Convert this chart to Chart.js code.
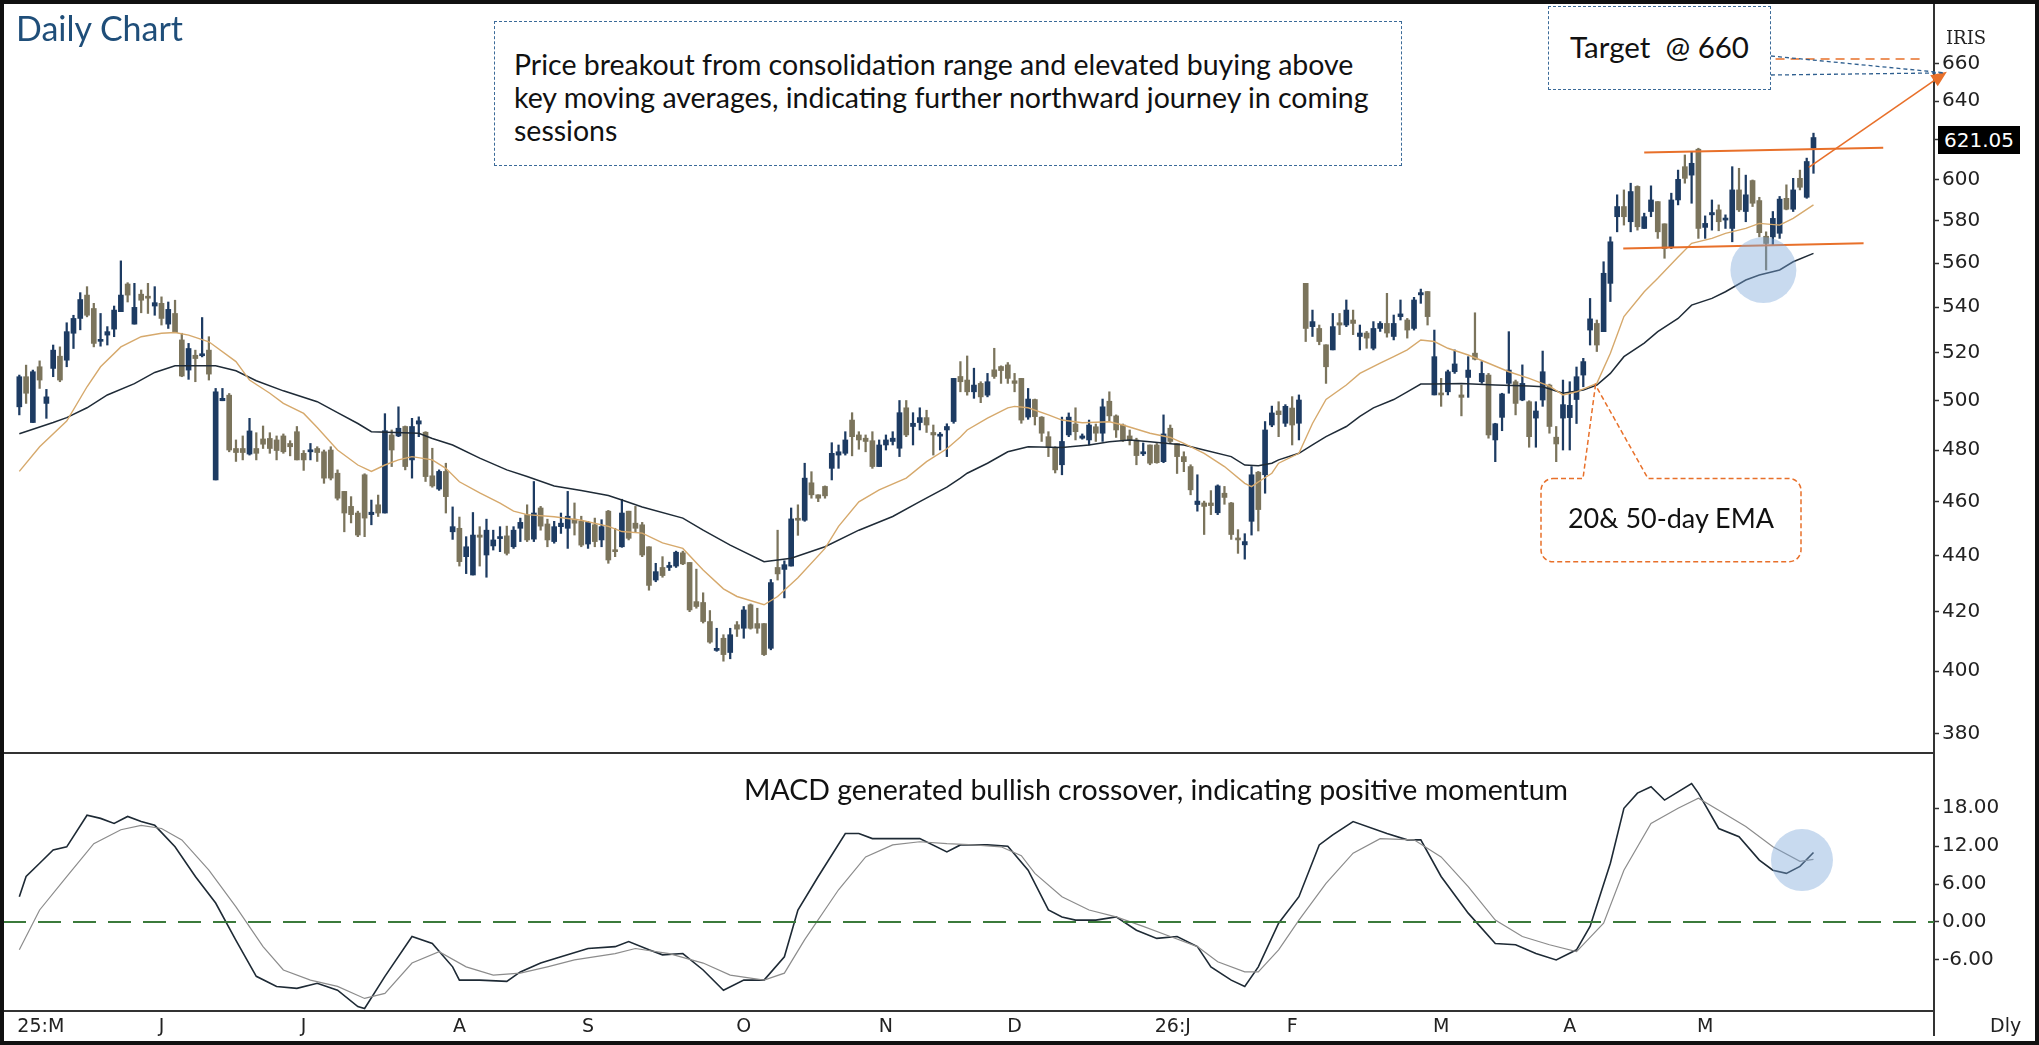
<!DOCTYPE html>
<html>
<head>
<meta charset="utf-8">
<title>IRIS Daily Chart</title>
<script src="https://cdn.jsdelivr.net/npm/chart.js@4.4.1/dist/chart.umd.min.js"></script>
<style>
  html, body { margin: 0; padding: 0; background: #fff; }
  #wrap { position: relative; width: 2039px; height: 1045px; overflow: hidden; background: #fff; font-family: Lato, "Noto Sans", sans-serif; }
  #priceCanvas { position: absolute; left: 0; top: 0; }
  #macdCanvas { position: absolute; left: 0; top: 753px; }
  .frame { position: absolute; left: 0; top: 0; width: 2039px; height: 1045px; box-sizing: border-box; border: 4px solid #111; pointer-events: none; }
  .sep { position: absolute; left: 0; top: 752px; width: 1934px; height: 2px; background: #333; }
  .axisTail { position: absolute; left: 1933px; top: 1010px; width: 2px; height: 26px; background: #333; }
  .title { position: absolute; left: 16px; top: 8px; font-size: 34px; line-height: 40px; color: #1f4e79; }
  .box { position: absolute; box-sizing: border-box; border: 1.5px dashed #3b6a98; background: #fff; color: #111; font-size: 28.5px; line-height: 33px; }
  .note { position: absolute; color: #111; font-size: 28.5px; line-height: 32px; white-space: nowrap; }
  .axisTxt { position: absolute; font-family: "DejaVu Sans", sans-serif; color: #222; font-size: 19px; line-height: 24px; white-space: nowrap; }
  .lastPx { position: absolute; left: 1938px; width: 82px; height: 28px; background: #000; color: #fff; font-family: "DejaVu Sans", sans-serif; font-size: 20px; line-height: 28px; text-align: center; }
</style>
</head>
<body>
<div id="wrap">
  <canvas id="priceCanvas" width="2039" height="753"></canvas>
  <canvas id="macdCanvas" width="2039" height="292"></canvas>
  <div class="sep"></div>
  <div class="axisTail"></div>
  <div class="title">Daily Chart</div>
  <div class="box" style="left:494px; top:21px; width:908px; height:145px; padding:26px 0 0 19px;">Price breakout from consolidation range and elevated buying above<br>key moving averages, indicating further northward journey in coming<br>sessions</div>
  <div class="box" style="left:1548px; top:6px; width:223px; height:84px; text-align:center; line-height:80px; white-space:pre; font-size:29.5px;">Target  @ 660</div>
  <div class="note" style="left:1541px; top:502px; width:260px; text-align:center; font-size:27px;">20&amp; 50-day EMA</div>
  <div class="note" style="left:744px; top:773px;">MACD generated bullish crossover, indicating positive momentum</div>
  <div class="axisTxt" style="left:1946px; top:26px; font-family:'DejaVu Serif', serif; font-size:18px;">IRIS</div>
  <div class="axisTxt" style="left:1990px; top:1013px;">Dly</div>
  <div class="frame"></div>
</div>
<script>
// daily candles, May 2025 - May 2026
const opens = [
  497.4, 509.9, 491.0, 514.1, 498.8, 513.4, 518.6, 516.9, 528.5, 535.0,
  545.4, 539.4, 525.0, 527.7, 530.3, 538.0, 550.4, 532.5, 545.8, 544.9,
  540.5, 541.7, 532.5, 537.2, 525.6, 512.7, 519.0, 518.8, 521.2, 468.3,
  499.9, 502.2, 480.6, 480.6, 478.4, 480.6, 484.4, 484.6, 484.0, 485.6,
  482.6, 487.3, 478.7, 479.3, 480.6, 479.3, 480.0, 470.9, 463.9, 458.2,
  455.7, 470.3, 455.1, 458.8, 455.7, 486.0, 485.6, 489.4, 476.1, 490.4,
  487.1, 469.9, 464.8, 471.6, 448.7, 450.0, 439.6, 433.0, 447.5, 440.2,
  443.5, 446.2, 447.2, 443.2, 450.0, 455.1, 446.0, 457.6, 451.6, 445.1,
  450.6, 450.0, 453.4, 452.6, 444.2, 451.3, 445.7, 456.4, 442.0, 443.2,
  456.4, 451.9, 451.3, 443.2, 431.2, 435.7, 435.7, 436.2, 441.0, 437.5,
  423.6, 423.3, 416.7, 406.9, 411.0, 406.2, 415.6, 414.4, 422.5, 416.0,
  416.0, 407.6, 435.7, 435.0, 436.2, 453.5, 453.0, 467.2, 462.6, 465.8,
  472.8, 478.0, 478.7, 492.0, 486.0, 484.7, 483.7, 473.5, 482.0, 483.4,
  480.7, 497.0, 489.4, 491.0, 493.0, 487.0, 485.5, 488.0, 491.4, 510.0,
  508.5, 503.6, 507.1, 502.2, 512.8, 514.2, 514.9, 508.2, 509.2, 493.2,
  500.4, 493.2, 485.3, 481.0, 474.2, 486.0, 490.4, 484.7, 484.0, 489.3,
  486.7, 499.7, 493.7, 490.0, 485.6, 484.0, 478.5, 482.0, 482.0, 475.4,
  488.7, 482.6, 477.4, 473.5, 458.9, 459.5, 459.5, 455.8, 463.2, 459.5,
  446.2, 443.9, 452.6, 471.3, 470.3, 490.0, 495.7, 490.7, 496.9, 490.7,
  550.7, 531.4, 530.6, 523.5, 521.3, 533.1, 532.1, 534.3, 527.1, 528.6,
  522.0, 530.6, 532.8, 527.1, 535.8, 534.3, 530.6, 545.5, 547.0, 502.3,
  503.0, 503.6, 512.0, 502.3, 509.6, 519.9, 507.8, 510.6, 484.0, 493.1,
  507.1, 507.8, 500.2, 499.5, 492.8, 500.2, 506.4, 485.1, 492.8, 493.0,
  500.4, 510.6, 529.9, 532.8, 529.2, 550.7, 581.8, 586.7, 579.4, 596.5,
  576.2, 584.3, 589.1, 578.4, 567.5, 589.9, 606.3, 602.1, 615.1, 576.7,
  582.7, 585.1, 580.2, 576.2, 594.8, 584.3, 599.4, 589.6, 572.5, 572.2,
  573.9, 590.7, 585.4, 600.5, 591.2, 615.6
];
const highs = [
  510.6, 514.8, 512.7, 516.6, 504.6, 523.4, 522.6, 533.1, 536.4, 546.5,
  549.2, 541.7, 537.2, 531.4, 540.5, 561.0, 551.0, 550.7, 547.7, 550.7,
  549.2, 544.6, 542.3, 543.1, 528.5, 524.1, 521.2, 535.4, 527.0, 505.0,
  505.0, 502.9, 484.0, 485.6, 492.7, 486.9, 489.6, 486.9, 485.6, 486.4,
  483.7, 489.4, 479.8, 482.6, 481.3, 480.0, 481.3, 472.2, 463.9, 461.9,
  456.4, 470.7, 460.6, 462.5, 494.6, 488.0, 497.4, 489.6, 492.7, 493.3,
  487.3, 480.7, 472.2, 474.8, 458.0, 454.2, 446.9, 455.9, 450.6, 453.4,
  449.3, 450.6, 450.8, 450.6, 453.8, 458.8, 467.7, 458.2, 453.4, 452.6,
  455.7, 463.9, 459.5, 454.5, 452.6, 453.8, 453.2, 456.7, 450.0, 460.9,
  456.4, 458.2, 452.2, 443.2, 437.2, 439.6, 437.6, 441.6, 441.6, 437.5,
  435.1, 426.7, 420.5, 414.4, 412.2, 414.4, 416.7, 421.9, 422.8, 421.3,
  416.0, 431.4, 449.3, 438.1, 457.6, 458.8, 474.8, 471.5, 462.6, 466.0,
  482.9, 482.0, 487.3, 495.0, 487.3, 486.0, 487.3, 484.0, 486.0, 487.3,
  500.0, 500.0, 495.0, 497.0, 496.0, 490.0, 487.0, 490.5, 509.2, 516.3,
  518.7, 513.5, 507.8, 511.3, 522.0, 514.5, 515.9, 511.3, 509.2, 505.0,
  500.6, 493.4, 487.3, 481.3, 493.2, 494.9, 497.0, 486.4, 492.0, 490.4,
  500.6, 503.6, 494.1, 490.4, 488.0, 484.7, 482.8, 482.0, 482.6, 494.1,
  490.0, 482.6, 479.3, 474.2, 470.3, 460.2, 464.2, 466.4, 465.8, 459.7,
  449.5, 448.0, 473.5, 471.6, 491.4, 497.7, 499.5, 498.3, 501.6, 502.3,
  550.7, 538.7, 532.1, 523.5, 537.2, 537.2, 543.2, 538.7, 532.1, 529.3,
  533.6, 533.6, 546.2, 536.5, 543.2, 535.0, 544.4, 548.1, 547.0, 529.9,
  509.2, 512.7, 521.3, 506.4, 518.4, 537.5, 516.3, 511.3, 490.7, 503.0,
  529.2, 508.5, 514.9, 499.9, 499.5, 520.8, 506.8, 489.4, 508.5, 507.8,
  514.0, 517.7, 543.9, 534.3, 560.6, 572.2, 592.4, 594.8, 598.1, 596.8,
  583.5, 596.8, 589.1, 578.4, 593.2, 604.6, 612.2, 613.9, 615.6, 582.2,
  589.9, 587.5, 582.7, 606.3, 605.5, 602.1, 599.7, 591.2, 574.6, 584.3,
  591.6, 597.3, 600.5, 604.6, 610.6, 623.3
];
const lows = [
  494.1, 498.8, 491.0, 505.0, 492.7, 509.9, 507.8, 514.1, 521.9, 530.0,
  535.7, 522.6, 522.9, 523.4, 527.0, 538.0, 542.3, 532.5, 537.5, 537.2,
  536.4, 532.1, 530.6, 528.8, 509.9, 508.8, 507.8, 518.3, 508.5, 468.3,
  499.9, 479.3, 475.5, 476.1, 478.0, 476.1, 480.6, 478.7, 476.1, 478.7,
  477.7, 476.1, 472.0, 476.1, 475.5, 467.0, 468.3, 460.6, 448.7, 452.0,
  446.9, 446.9, 451.3, 454.4, 455.7, 473.5, 485.3, 472.2, 469.0, 485.3,
  467.7, 465.5, 464.3, 455.7, 445.9, 436.2, 433.5, 433.0, 436.2, 432.2,
  442.0, 441.4, 440.2, 442.6, 445.1, 445.1, 445.1, 449.3, 443.2, 444.5,
  448.1, 442.6, 447.5, 443.2, 442.6, 443.2, 443.2, 437.2, 439.6, 443.0,
  445.7, 448.7, 439.6, 427.6, 430.6, 432.2, 434.6, 435.7, 436.7, 420.1,
  421.3, 416.2, 409.3, 406.6, 403.3, 404.1, 411.6, 411.0, 414.1, 412.7,
  405.2, 407.1, 431.2, 424.9, 436.2, 447.4, 452.6, 461.3, 460.0, 461.3,
  468.3, 472.8, 478.0, 477.7, 480.3, 479.3, 472.8, 473.5, 480.0, 482.0,
  477.4, 485.3, 482.0, 488.0, 487.0, 478.0, 480.0, 477.4, 490.7, 503.6,
  502.2, 500.9, 499.1, 501.5, 509.2, 507.1, 507.1, 503.6, 490.7, 492.3,
  490.0, 483.4, 477.4, 471.0, 470.3, 485.3, 484.0, 484.3, 482.0, 483.4,
  483.4, 491.4, 485.0, 483.4, 482.0, 474.2, 477.8, 474.2, 474.8, 475.0,
  482.6, 470.8, 471.5, 462.6, 456.4, 447.7, 455.1, 455.1, 459.0, 445.9,
  440.8, 438.7, 447.5, 449.0, 463.2, 489.3, 485.3, 489.4, 482.0, 484.0,
  524.9, 527.1, 523.5, 507.1, 521.3, 527.9, 531.4, 527.9, 521.3, 522.0,
  521.3, 529.3, 526.8, 525.6, 534.3, 526.4, 529.9, 541.7, 532.1, 502.3,
  497.6, 502.3, 511.3, 493.7, 501.3, 517.0, 507.1, 484.7, 475.4, 487.7,
  503.0, 494.1, 499.9, 481.1, 481.1, 497.6, 486.7, 475.4, 480.0, 480.0,
  490.6, 505.7, 523.4, 520.6, 529.2, 542.5, 574.6, 577.8, 574.6, 575.4,
  576.2, 581.8, 571.5, 562.2, 566.7, 587.5, 598.1, 588.3, 571.5, 571.5,
  575.4, 575.1, 576.2, 569.9, 584.3, 579.4, 586.7, 572.2, 556.8, 568.3,
  571.5, 585.1, 584.3, 594.8, 590.7, 603.0
];
const closes = [
  509.9, 503.0, 512.0, 508.5, 501.5, 521.2, 508.5, 529.2, 535.0, 543.4,
  536.4, 524.1, 525.8, 529.2, 538.7, 545.4, 545.4, 539.9, 543.1, 544.0,
  542.0, 535.0, 539.0, 528.8, 510.2, 521.9, 517.6, 519.5, 511.0, 503.6,
  500.9, 480.0, 479.0, 479.0, 487.6, 478.7, 482.3, 480.6, 479.8, 479.3,
  481.3, 476.1, 476.1, 480.0, 479.0, 469.0, 469.0, 461.3, 455.7, 455.1,
  447.5, 453.8, 456.0, 455.7, 487.7, 480.0, 488.7, 473.5, 489.4, 491.7,
  469.6, 466.0, 471.6, 461.9, 450.6, 437.8, 443.2, 447.5, 446.7, 449.3,
  445.7, 446.7, 440.8, 449.3, 452.2, 445.7, 455.7, 450.8, 445.7, 450.6,
  451.9, 454.5, 451.9, 443.8, 452.2, 445.1, 450.6, 438.4, 441.4, 455.7,
  446.3, 450.0, 440.2, 429.3, 434.2, 432.8, 436.2, 441.2, 437.0, 420.7,
  421.9, 416.7, 409.7, 407.6, 405.5, 412.2, 414.1, 420.7, 414.4, 414.4,
  405.5, 430.3, 433.4, 436.7, 453.5, 453.0, 469.0, 462.6, 461.3, 462.2,
  478.7, 479.3, 484.0, 485.3, 484.0, 483.4, 473.5, 482.0, 484.0, 484.7,
  495.0, 486.0, 490.7, 493.0, 490.0, 486.0, 486.0, 489.4, 509.2, 507.8,
  503.6, 506.4, 501.5, 507.8, 510.0, 512.5, 509.2, 507.1, 492.0, 500.6,
  493.4, 486.7, 481.3, 472.2, 483.4, 493.2, 487.3, 485.6, 490.0, 486.7,
  497.4, 493.7, 488.0, 484.0, 484.0, 477.8, 479.3, 474.8, 475.0, 486.4,
  483.4, 477.4, 475.4, 464.5, 460.2, 458.2, 458.5, 466.0, 461.6, 447.7,
  445.7, 445.1, 470.3, 457.0, 488.0, 494.9, 494.2, 497.6, 490.0, 500.2,
  530.6, 533.6, 524.9, 514.1, 531.4, 532.1, 538.7, 532.8, 528.6, 526.4,
  530.6, 532.8, 528.6, 532.8, 537.0, 529.9, 543.2, 546.5, 535.8, 518.4,
  502.3, 512.0, 515.3, 501.3, 512.7, 517.3, 511.3, 486.0, 490.5, 502.7,
  512.7, 498.8, 507.1, 485.3, 495.7, 512.0, 489.4, 482.4, 498.3, 498.0,
  509.9, 516.3, 534.8, 523.4, 555.3, 569.9, 586.7, 581.8, 594.0, 577.0,
  581.8, 589.9, 574.6, 566.7, 589.9, 600.0, 600.5, 608.0, 576.2, 578.6,
  583.8, 579.4, 581.0, 594.8, 585.1, 592.4, 588.3, 574.2, 569.1, 581.0,
  590.3, 585.4, 594.8, 596.1, 608.9, 621.05
];

// moving averages, read at sample bars
const ema20Bars = [0, 3, 7, 10, 12, 15, 18, 21, 23, 25, 28, 32, 34, 37, 39, 42, 44, 47, 50, 52, 54, 56, 58, 61, 63, 65, 68, 71, 73, 75, 79, 83, 87, 89, 92, 95, 98, 101, 104, 106, 110, 112, 115, 119, 121, 124, 127, 131, 134, 137, 139, 140, 143, 146, 147, 149, 152, 154, 157, 161, 163, 167, 170, 172, 175, 178, 181, 182, 183, 185, 186, 189, 191, 193, 196, 198, 201, 203, 205, 207, 209, 211, 214, 217, 220, 223, 226, 228, 230, 233, 235, 237, 240, 242, 245, 247, 250, 252, 255, 257, 260, 262, 265];
const ema20Vals = [471.6, 481.3, 491.6, 505.7, 514.1, 522.6, 527.0, 528.5, 528.8, 527.7, 524.8, 516.3, 508.5, 503.0, 498.8, 494.7, 489.0, 480.0, 474.1, 471.6, 474.1, 476.1, 477.4, 476.1, 472.8, 467.6, 463.3, 459.4, 456.4, 455.1, 454.3, 453.0, 450.7, 448.8, 448.2, 444.6, 442.6, 434.8, 428.1, 425.4, 422.5, 425.4, 432.0, 442.6, 450.7, 459.9, 464.5, 469.0, 475.4, 480.5, 485.2, 488.0, 492.8, 497.0, 497.6, 497.0, 494.1, 492.0, 490.9, 491.3, 490.0, 486.7, 485.0, 482.6, 478.7, 473.5, 467.0, 465.7, 467.5, 470.9, 474.8, 478.7, 490.6, 500.4, 506.4, 511.3, 515.6, 518.4, 521.3, 525.6, 524.9, 522.0, 519.1, 515.6, 512.0, 509.2, 506.0, 502.3, 503.6, 507.1, 519.9, 535.8, 546.9, 553.0, 562.8, 569.2, 571.5, 573.9, 576.2, 578.6, 577.8, 581.0, 587.5];
const ema50Bars = [0, 5, 7, 10, 13, 17, 20, 23, 29, 32, 35, 39, 44, 47, 50, 52, 59, 61, 64, 68, 72, 75, 79, 83, 87, 89, 92, 98, 101, 105, 110, 114, 119, 124, 129, 133, 137, 139, 140, 143, 146, 149, 154, 158, 161, 164, 167, 172, 175, 179, 181, 183, 185, 186, 189, 191, 193, 196, 198, 200, 203, 205, 207, 209, 213, 218, 223, 225, 228, 231, 233, 235, 237, 240, 242, 245, 247, 250, 252, 255, 257, 260, 262, 265];
const ema50Vals = [486.5, 491.0, 493.0, 497.0, 502.3, 507.0, 511.7, 514.5, 514.5, 512.4, 508.2, 504.0, 499.5, 495.0, 490.6, 487.3, 486.7, 484.6, 482.0, 476.8, 472.2, 469.6, 466.0, 464.2, 462.3, 460.6, 458.0, 453.8, 449.3, 443.8, 437.8, 439.0, 443.2, 449.3, 454.4, 460.0, 465.5, 469.0, 470.9, 474.8, 479.3, 481.3, 481.0, 482.0, 483.3, 484.0, 483.3, 482.0, 480.0, 477.4, 474.1, 473.8, 474.8, 476.1, 478.7, 482.0, 485.3, 489.4, 493.5, 497.0, 500.4, 503.6, 506.8, 506.8, 507.1, 506.4, 506.0, 505.7, 503.0, 504.3, 506.4, 511.3, 518.4, 524.2, 529.2, 535.0, 540.9, 543.9, 546.9, 552.2, 554.5, 556.8, 560.6, 564.5];

// MACD and signal, read at sample bars
const macdBars = [0, 1, 3, 5, 7, 10, 12, 14, 16, 18, 20, 23, 26, 29, 32, 35, 38, 41, 44, 47, 50, 51, 54, 58, 61, 64, 65, 68, 72, 74, 77, 80, 84, 88, 90, 93, 95, 98, 101, 104, 107, 110, 113, 115, 118, 122, 124, 126, 129, 133, 137, 139, 143, 146, 149, 152, 154, 156, 159, 162, 165, 168, 171, 174, 176, 179, 181, 183, 186, 189, 192, 194, 197, 202, 205, 207, 210, 214, 218, 221, 224, 227, 230, 232, 235, 237, 239, 241, 243, 247, 248, 251, 254, 257, 259, 261, 263, 265];
const macdVals = [4.0, 7.2, 9.3, 11.4, 11.9, 16.9, 16.4, 15.6, 16.7, 15.9, 15.3, 11.9, 7.2, 3.0, -2.9, -8.6, -10.2, -10.5, -9.7, -10.8, -13.4, -13.7, -8.6, -2.3, -3.4, -7.1, -9.2, -9.2, -9.4, -7.9, -6.5, -5.5, -4.2, -3.9, -3.1, -4.4, -5.2, -5.0, -7.6, -10.8, -9.2, -9.2, -5.5, 1.9, 7.2, 14.0, 14.0, 13.2, 13.2, 13.2, 11.1, 12.2, 12.2, 12.0, 8.2, 1.9, 0.8, 0.3, 0.3, 0.8, -1.3, -2.6, -2.3, -3.9, -7.1, -9.2, -10.2, -7.1, -0.2, 4.0, 12.2, 13.8, 15.9, 14.0, 13.0, 13.0, 7.2, 1.4, -3.4, -3.6, -5.0, -6.0, -4.4, -0.7, 9.3, 18.0, 20.4, 21.4, 19.3, 21.9, 20.4, 14.8, 13.5, 9.8, 8.2, 7.7, 8.8, 11.0];
const signalBars = [0, 3, 7, 11, 15, 18, 21, 24, 28, 32, 36, 39, 43, 47, 51, 54, 58, 62, 66, 70, 74, 78, 82, 88, 91, 96, 101, 105, 110, 113, 116, 121, 125, 129, 133, 137, 141, 145, 148, 150, 154, 158, 162, 166, 170, 174, 177, 181, 183, 186, 189, 193, 197, 201, 206, 210, 214, 218, 222, 226, 230, 234, 237, 241, 245, 248, 251, 255, 259, 263, 265];
const signalVals = [-4.4, 1.9, 7.2, 12.4, 14.6, 15.3, 14.8, 13.0, 8.2, 2.4, -3.9, -7.6, -9.2, -10.2, -12.1, -11.3, -6.5, -4.7, -7.1, -8.4, -8.1, -7.1, -6.0, -5.0, -4.2, -5.0, -6.5, -8.4, -9.2, -8.1, -2.8, 5.1, 10.3, 12.2, 12.7, 12.4, 12.2, 11.9, 10.5, 7.7, 4.0, 1.9, 0.8, -0.7, -2.3, -3.9, -6.3, -7.9, -7.9, -4.4, 0.3, 6.1, 10.9, 13.2, 13.0, 10.3, 5.6, 0.3, -2.3, -3.6, -4.7, -0.2, 8.2, 15.6, 18.0, 19.6, 17.7, 15.1, 11.9, 9.6, 9.9];

// axis ticks
const priceTicks = [380, 400, 420, 440, 460, 480, 500, 520, 540, 560, 580, 600, 620, 640, 660];
const macdTicks = [-6, 0, 6, 12, 18];
const monthBars = [0, 21, 42, 65, 84, 107, 128, 147, 168, 188, 210, 229, 249];
const monthLabels = ["25:M", "J", "J", "A", "S", "O", "N", "D", "26:J", "F", "M", "A", "M"];

// drawn annotations: [bar, price]
const resistanceLine = [[240, 613.4], [275.3, 615.9]];
const supportLine = [[236.9, 566.8], [272.4, 569.2]];
const targetArrow = [[264.3, 606.0], [284.7, 655.6]];
const targetLevel = [[259.4, 662.6], [280.8, 662.6]];
const emaCross = [232.8, 506.4];
const priceCircle = [257.6, 556.8];
const macdCircle = [263.3, 9.8];

const X_MIN = -2.41, X_MAX = 282.8;
const UP = '#1d3b62', DOWN = '#7b745c';
const ORANGE = '#e8702a';

Chart.defaults.font.family = "'DejaVu Sans', sans-serif";

const n = closes.length;
const candleColors = closes.map((c, i) => c >= opens[i] ? UP : DOWN);
const bodies = closes.map((c, i) => ({ x: i, y: [opens[i], c] }));
const wicks = closes.map((c, i) => ({ x: i, y: [lows[i], highs[i]] }));
const toPts = (bars, vals) => bars.map((b, i) => ({ x: b, y: vals[i] }));

function fixedAxis(width) {
  return s => { s.width = width; s.paddingTop = 0; s.paddingBottom = 0; };
}

const priceNotes = {
  id: 'priceNotes',
  afterDatasetsDraw(chart) {
    const { ctx, scales: { x, y } } = chart;
    const px = p => x.getPixelForValue(p[0]);
    const py = p => y.getPixelForValue(p[1]);
    ctx.save();

    // consolidation range
    ctx.strokeStyle = ORANGE;
    ctx.lineWidth = 2;
    [resistanceLine, supportLine].forEach(l => {
      ctx.beginPath();
      ctx.moveTo(px(l[0]), py(l[0]));
      ctx.lineTo(px(l[1]), py(l[1]));
      ctx.stroke();
    });

    // circle at the retest
    ctx.fillStyle = 'rgba(125, 168, 218, 0.42)';
    ctx.beginPath();
    ctx.arc(px(priceCircle), py(priceCircle), 33, 0, Math.PI * 2);
    ctx.fill();

    // target arrow
    const a0 = targetArrow[0], a1 = targetArrow[1];
    const x0 = px(a0), y0 = py(a0), x1 = px(a1), y1 = py(a1);
    const ang = Math.atan2(y1 - y0, x1 - x0);
    ctx.strokeStyle = ORANGE;
    ctx.lineWidth = 1.6;
    ctx.beginPath();
    ctx.moveTo(x0, y0);
    ctx.lineTo(x1 - 12 * Math.cos(ang), y1 - 12 * Math.sin(ang));
    ctx.stroke();
    ctx.fillStyle = ORANGE;
    ctx.beginPath();
    ctx.moveTo(x1, y1);
    ctx.lineTo(x1 - 17 * Math.cos(ang - 0.4), y1 - 17 * Math.sin(ang - 0.4));
    ctx.lineTo(x1 - 17 * Math.cos(ang + 0.4), y1 - 17 * Math.sin(ang + 0.4));
    ctx.closePath();
    ctx.fill();

    // target level dashes
    ctx.setLineDash([9, 6]);
    ctx.lineWidth = 1.3;
    ctx.beginPath();
    ctx.moveTo(px(targetLevel[0]), py(targetLevel[0]));
    ctx.lineTo(px(targetLevel[1]), py(targetLevel[1]));
    ctx.stroke();

    // connectors from target box
    ctx.strokeStyle = '#2f5f8f';
    ctx.lineWidth = 1.3;
    ctx.setLineDash([4, 3]);
    ctx.beginPath();
    ctx.moveTo(1771, 56); ctx.lineTo(x1 - 2, y1 + 1);
    ctx.moveTo(1771, 75); ctx.lineTo(x1 - 2, y1 + 1);
    ctx.stroke();

    // EMA callout
    const cx = px(emaCross), cy = py(emaCross);
    const L = 1541, T = 478.5, R = 1801, B = 561.8, r = 12;
    ctx.setLineDash([5, 3]);
    ctx.strokeStyle = ORANGE;
    ctx.lineWidth = 1.5;
    ctx.fillStyle = '#fff';
    ctx.beginPath();
    ctx.moveTo(L + r, T);
    ctx.lineTo(1583, T);
    ctx.lineTo(cx, cy);
    ctx.lineTo(1648, T);
    ctx.lineTo(R - r, T);
    ctx.arcTo(R, T, R, T + r, r);
    ctx.lineTo(R, B - r);
    ctx.arcTo(R, B, R - r, B, r);
    ctx.lineTo(L + r, B);
    ctx.arcTo(L, B, L, B - r, r);
    ctx.lineTo(L, T + r);
    ctx.arcTo(L, T, L + r, T, r);
    ctx.closePath();
    ctx.fill();
    ctx.stroke();
    ctx.restore();
  }
};

const macdNotes = {
  id: 'macdNotes',
  afterDatasetsDraw(chart) {
    const { ctx, scales: { x, y } } = chart;
    ctx.save();
    ctx.fillStyle = 'rgba(125, 168, 218, 0.42)';
    ctx.beginPath();
    ctx.arc(x.getPixelForValue(macdCircle[0]), y.getPixelForValue(macdCircle[1]), 31, 0, Math.PI * 2);
    ctx.fill();
    ctx.restore();
  }
};

const priceChart = new Chart(document.getElementById('priceCanvas'), {
  type: 'bar',
  data: {
    datasets: [
      { type: 'line', label: 'EMA 20', data: toPts(ema20Bars, ema20Vals), borderColor: '#d6a96c', borderWidth: 1.4, pointRadius: 0, tension: 0, order: 0 },
      { type: 'line', label: 'EMA 50', data: toPts(ema50Bars, ema50Vals), borderColor: '#1f2b37', borderWidth: 1.5, pointRadius: 0, tension: 0, order: 0 },
      { label: 'Body', data: bodies, backgroundColor: candleColors, barThickness: 5, minBarLength: 2, grouped: false, order: 1 },
      { label: 'Wick', data: wicks, backgroundColor: candleColors, barThickness: 1.6, grouped: false, order: 2 }
    ]
  },
  options: {
    responsive: false,
    animation: false,
    devicePixelRatio: 1,
    layout: { padding: { left: 3, top: 3, right: 0, bottom: 0 } },
    plugins: { legend: { display: false }, tooltip: { enabled: false } },
    scales: {
      x: { type: 'linear', min: X_MIN, max: X_MAX, offset: false, display: false },
      y: {
        type: 'logarithmic', position: 'right', min: 373.9, max: 693.9,
        afterBuildTicks: s => { s.ticks = priceTicks.map(v => ({ value: v })); },
        afterFit: fixedAxis(105),
        ticks: { color: '#222', font: { size: 20 }, padding: 3, callback: v => String(v) },
        grid: { drawOnChartArea: false, drawTicks: true, tickLength: 5, color: '#333', tickWidth: 1.5 },
        border: { display: true, color: '#333', width: 2 }
      }
    }
  },
  plugins: [priceNotes]
});

const macdChart = new Chart(document.getElementById('macdCanvas'), {
  type: 'line',
  data: {
    datasets: [
      { label: 'Zero', data: [{ x: X_MIN, y: 0 }, { x: X_MAX, y: 0 }], borderColor: '#3b7a3b', borderWidth: 2, borderDash: [23, 12], pointRadius: 0 },
      { label: 'Signal', data: toPts(signalBars, signalVals), borderColor: '#8c8c8c', borderWidth: 1.2, pointRadius: 0, tension: 0 },
      { label: 'MACD', data: toPts(macdBars, macdVals), borderColor: '#1e2a35', borderWidth: 1.6, pointRadius: 0, tension: 0 }
    ]
  },
  options: {
    responsive: false,
    animation: false,
    devicePixelRatio: 1,
    layout: { padding: { left: 3, top: 0, right: 0, bottom: 0 } },
    plugins: { legend: { display: false }, tooltip: { enabled: false } },
    scales: {
      x: {
        type: 'linear', min: X_MIN, max: X_MAX, offset: false,
        ticks: { display: false },
        grid: { display: false },
        border: { display: true, color: '#333', width: 2 },
        afterFit: s => { s.height = 34; s.paddingLeft = 0; s.paddingRight = 0; }
      },
      y: {
        position: 'right', min: -14.09, max: 26.75,
        afterBuildTicks: s => { s.ticks = macdTicks.map(v => ({ value: v })); },
        afterFit: fixedAxis(105),
        ticks: { color: '#222', font: { size: 20 }, padding: 3, callback: v => v.toFixed(2) },
        grid: { drawOnChartArea: false, drawTicks: true, tickLength: 5, color: '#333', tickWidth: 1.5 },
        border: { display: true, color: '#333', width: 2 }
      }
    }
  },
  plugins: [macdNotes]
});

// month labels and last price tag, placed through the chart scales
const wrap = document.getElementById('wrap');
const mx = macdChart.scales.x;
monthBars.forEach((b, k) => {
  const d = document.createElement('div');
  d.className = 'axisTxt';
  d.textContent = monthLabels[k];
  d.style.top = '1013px';
  const p = mx.getPixelForValue(b);
  if (monthLabels[k].includes(':')) {
    d.style.left = (p - 2) + 'px';
  } else {
    d.style.left = p + 'px';
    d.style.transform = 'translateX(-50%)';
  }
  wrap.insertBefore(d, wrap.querySelector('.frame'));
});
const tag = document.createElement('div');
tag.className = 'lastPx';
tag.textContent = closes[n - 1].toFixed(2);
tag.style.top = (priceChart.scales.y.getPixelForValue(closes[n - 1]) - 12) + 'px';
wrap.insertBefore(tag, wrap.querySelector('.frame'));
</script>
</body>
</html>
